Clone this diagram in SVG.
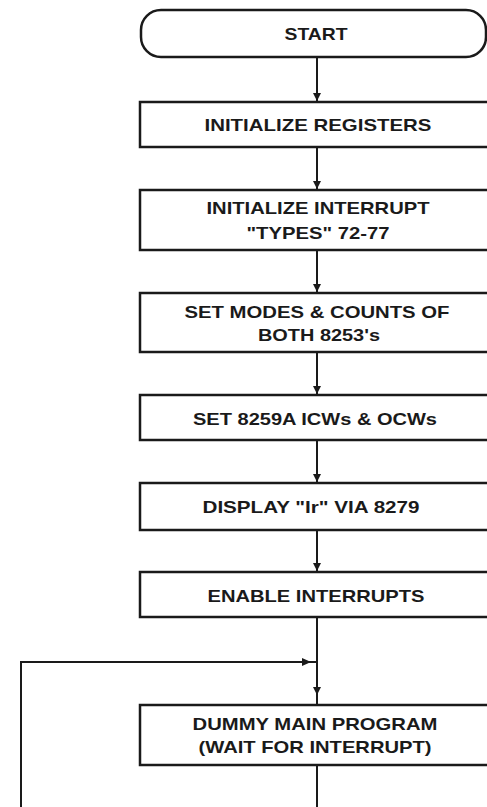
<svg xmlns="http://www.w3.org/2000/svg" width="487" height="807" viewBox="0 0 487 807">
<style>
.box{fill:#fff;stroke:#1a1a1a;stroke-width:2.5}
.ln{fill:none;stroke:#1a1a1a;stroke-width:2}
.ah{fill:#1a1a1a}
text{font-family:"Liberation Sans",Arial,sans-serif;font-weight:bold;font-size:17px;fill:#1a1a1a;text-anchor:middle;dominant-baseline:central}
</style>
<rect width="487" height="807" fill="#fff"/>
<g id="connectors">
<line class="ln" x1="317" y1="57" x2="317" y2="102"/>
<line class="ln" x1="317" y1="147" x2="317" y2="190"/>
<line class="ln" x1="317" y1="250" x2="317" y2="293"/>
<line class="ln" x1="317" y1="352" x2="317" y2="395"/>
<line class="ln" x1="317" y1="440" x2="317" y2="483"/>
<line class="ln" x1="317" y1="530" x2="317" y2="572"/>
<line class="ln" x1="317" y1="617" x2="317" y2="705"/>
<polyline class="ln" points="317,765 317,812"/>
<polyline class="ln" points="21,812 21,662 316,662"/>
<polygon class="ah" points="313,93 321,93 317,101"/>
<polygon class="ah" points="313,181 321,181 317,189"/>
<polygon class="ah" points="313,284 321,284 317,292"/>
<polygon class="ah" points="313,386 321,386 317,394"/>
<polygon class="ah" points="313,474 321,474 317,482"/>
<polygon class="ah" points="313,563 321,563 317,571"/>
<polygon class="ah" points="313,687 321,687 317,695"/>
<polygon class="ah" points="302,658 302,666 311,662"/>
</g>
<g id="start">
<rect class="box" x="141" y="10" width="345" height="47" rx="20" ry="20"/>
<text x="316" y="34" textLength="63" lengthAdjust="spacingAndGlyphs">START</text>
</g>
<g id="init-registers">
<rect class="box" x="140" y="102" width="360" height="45"/>
<text x="318" y="125" textLength="227" lengthAdjust="spacingAndGlyphs">INITIALIZE REGISTERS</text>
</g>
<g id="init-interrupt">
<rect class="box" x="140" y="190" width="360" height="60"/>
<text x="318" y="208" textLength="223" lengthAdjust="spacingAndGlyphs">INITIALIZE INTERRUPT</text>
<text x="318" y="233" textLength="143" lengthAdjust="spacingAndGlyphs">"TYPES" 72-77</text>
</g>
<g id="set-modes">
<rect class="box" x="140" y="293" width="360" height="59"/>
<text x="317" y="312" textLength="265" lengthAdjust="spacingAndGlyphs">SET MODES &amp; COUNTS OF</text>
<text x="319" y="335" textLength="122" lengthAdjust="spacingAndGlyphs">BOTH 8253's</text>
</g>
<g id="set-8259a">
<rect class="box" x="140" y="395" width="360" height="45"/>
<text x="315" y="419" textLength="244" lengthAdjust="spacingAndGlyphs">SET 8259A ICWs &amp; OCWs</text>
</g>
<g id="display">
<rect class="box" x="140" y="483" width="360" height="47"/>
<text x="311" y="507" textLength="217" lengthAdjust="spacingAndGlyphs">DISPLAY "Ir" VIA 8279</text>
</g>
<g id="enable">
<rect class="box" x="140" y="572" width="360" height="45"/>
<text x="316" y="596" textLength="217" lengthAdjust="spacingAndGlyphs">ENABLE INTERRUPTS</text>
</g>
<g id="dummy-main">
<rect class="box" x="140" y="705" width="360" height="60"/>
<text x="315" y="724" textLength="245" lengthAdjust="spacingAndGlyphs">DUMMY MAIN PROGRAM</text>
<text x="315" y="747" textLength="233" lengthAdjust="spacingAndGlyphs">(WAIT FOR INTERRUPT)</text>
</g>
</svg>
